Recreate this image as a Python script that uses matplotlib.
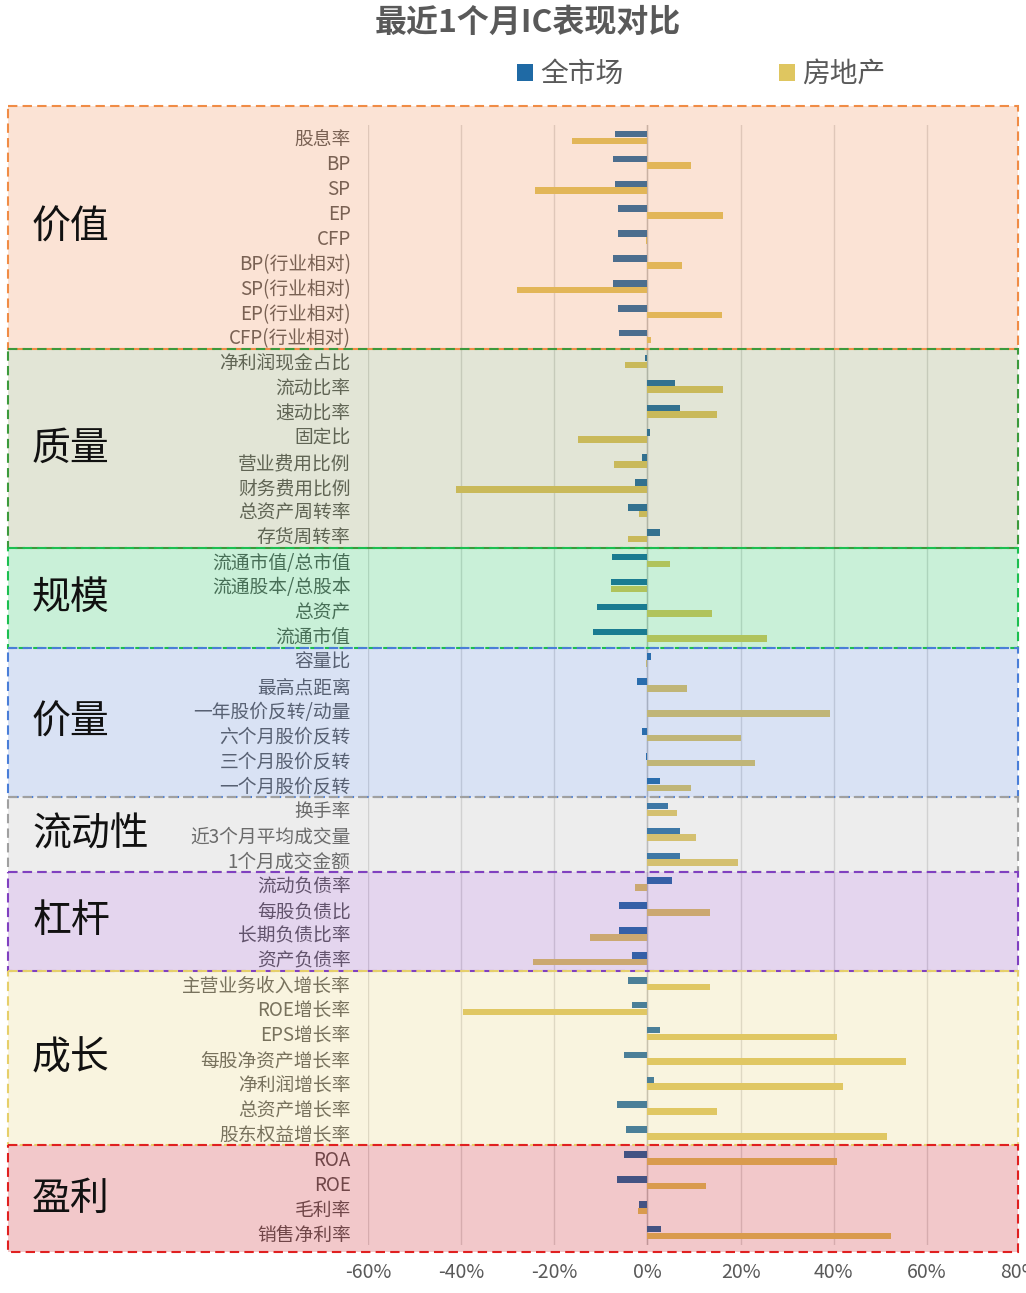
import matplotlib
matplotlib.use("Agg")
import matplotlib.pyplot as plt
from matplotlib.patches import Rectangle
from matplotlib.transforms import blended_transform_factory
import numpy as np

plt.rcParams['font.family'] = ['Noto Sans CJK SC', 'DejaVu Sans']

title = "最近1个月IC表现对比"
series_names = ["全市场", "房地产"]

groups = ["价值", "质量", "规模", "价量", "流动性", "杠杆", "成长", "盈利"]
group_sizes = [9, 8, 4, 6, 3, 4, 7, 4]

factors = [
    "股息率", "BP", "SP", "EP", "CFP", "BP(行业相对)", "SP(行业相对)", "EP(行业相对)", "CFP(行业相对)",
    "净利润现金占比", "流动比率", "速动比率", "固定比", "营业费用比例", "财务费用比例", "总资产周转率", "存货周转率",
    "流通市值/总市值", "流通股本/总股本", "总资产", "流通市值",
    "容量比", "最高点距离", "一年股价反转/动量", "六个月股价反转", "三个月股价反转", "一个月股价反转",
    "换手率", "近3个月平均成交量", "1个月成交金额",
    "流动负债率", "每股负债比", "长期负债比率", "资产负债率",
    "主营业务收入增长率", "ROE增长率", "EPS增长率", "每股净资产增长率", "净利润增长率", "总资产增长率", "股东权益增长率",
    "ROA", "ROE", "毛利率", "销售净利率",
]

# IC values in %
market = [
    -6.9, -7.4, -6.9, -6.4, -6.4, -7.4, -7.4, -6.4, -6.0,
    -0.6, 6.0, 7.1, 0.5, -1.1, -2.7, -4.1, 2.6,
    -7.5, -7.8, -10.9, -11.6,
    0.8, -2.2, 0.0, -1.1, -0.3, 2.6,
    4.4, 7.1, 7.1,
    5.3, -6.0, -6.0, -3.3,
    -4.1, -3.3, 2.6, -5.1, 1.5, -6.6, -4.6,
    -5.1, -6.6, -1.8, 3.0,
]
realestate = [
    -16.3, 9.3, -24.2, 16.3, -0.3, 7.5, -28.0, 16.0, 0.7,
    -4.8, 16.3, 14.9, -14.9, -7.1, -41.0, -1.8, -4.1,
    4.8, -7.8, 13.8, 25.7,
    -0.3, 8.5, 39.1, 20.1, 23.1, 9.3,
    6.4, 10.4, 19.4,
    -2.7, 13.5, -12.3, -24.5,
    13.5, -39.7, 40.6, 55.5, 42.1, 14.9, 51.4,
    40.6, 12.5, -2.0, 52.2,
]
xticks = [-60, -40, -20, 0, 20, 40, 60, 80]

# styles
blue = "#1f6aa5"
gold = "#dfc660"
overlay_colors = ["#ed8040", "#7b8d45", "#09bb4e", "#527bcd", "#adadad", "#8440b2", "#e8cd6e", "#c4050e"]
border_colors = ["#f08c46", "#3c9a3c", "#1cbf50", "#4a7ed8", "#a0a0a0", "#8040c0", "#e6cf6a", "#e02020"]
overlay_alpha = 0.22

W, H = 1026, 1293
fig = plt.figure(figsize=(W / 100, H / 100), dpi=100)
ax = fig.add_axes([368 / W, 1 - 1245 / H, (1020 - 368) / W, (1245 - 125) / H])

n = len(factors)
y = np.arange(n)
h = 0.265
off = 0.135
b1 = ax.barh(y - off, market, height=h, color=blue, label=series_names[0], zorder=2)
b2 = ax.barh(y + off, realestate, height=h, color=gold, label=series_names[1], zorder=2)

ax.set_xlim(xticks[0], xticks[-1])
ax.set_ylim(n - 0.5, -0.5)
ax.set_xticks(xticks)
ax.set_xticklabels([f"{v}%" for v in xticks])
ax.set_yticks(y)
ax.set_yticklabels(factors)
ax.tick_params(axis='x', length=0, pad=12, labelsize=14, labelcolor='#595959')
ax.tick_params(axis='y', length=0, pad=12.5, labelsize=13.5, labelcolor='#595959')
for s in ax.spines.values():
    s.set_visible(False)
ax.grid(axis='x', color='#dcdcdc', lw=1, zorder=0)
ax.axvline(0, color='#c0c0c0', lw=1, zorder=1)
ax.set_axisbelow(True)
ax.patch.set_alpha(0)

# group boxes (translucent overlays)
tr = blended_transform_factory(fig.transFigure, ax.transData)
x0 = 8 / W
bw = (1018 - 8) / W
start = 0
for i, (g, sz) in enumerate(zip(groups, group_sizes)):
    top = start - 0.5
    bot = start + sz - 0.5
    if i == 0:
        top = -1.28
    if i == len(groups) - 1:
        bot = n - 0.5 + 0.3
    fig.add_artist(Rectangle((x0, top), bw, bot - top, transform=tr,
                             facecolor=overlay_colors[i], alpha=overlay_alpha,
                             edgecolor='none', zorder=1))
    fig.add_artist(Rectangle((x0, top), bw, bot - top, transform=tr,
                             facecolor='none', edgecolor=border_colors[i],
                             lw=1.5, linestyle=(0, (4.5, 2.5)), zorder=2))
    fig.text(32 / W, (top + bot) / 2, g, transform=tr, ha='left', va='center',
             fontsize=28, color='#111111', zorder=4)
    start += sz

fig.text(528 / W, 1 - 23 / H, title, ha='center', va='center', fontsize=23,
         fontweight='bold', color='#595959')

fig.legend(handles=[b1, b2], labels=series_names, loc='center left',
           bbox_to_anchor=(517 / W, 1 - 74 / H), ncol=2, frameon=False,
           fontsize=20, handlelength=0.57, handleheight=0.57, handletextpad=0.27,
           columnspacing=5.6, borderpad=0, borderaxespad=0, labelcolor='#595959')

fig.savefig("out.png", dpi=100)
